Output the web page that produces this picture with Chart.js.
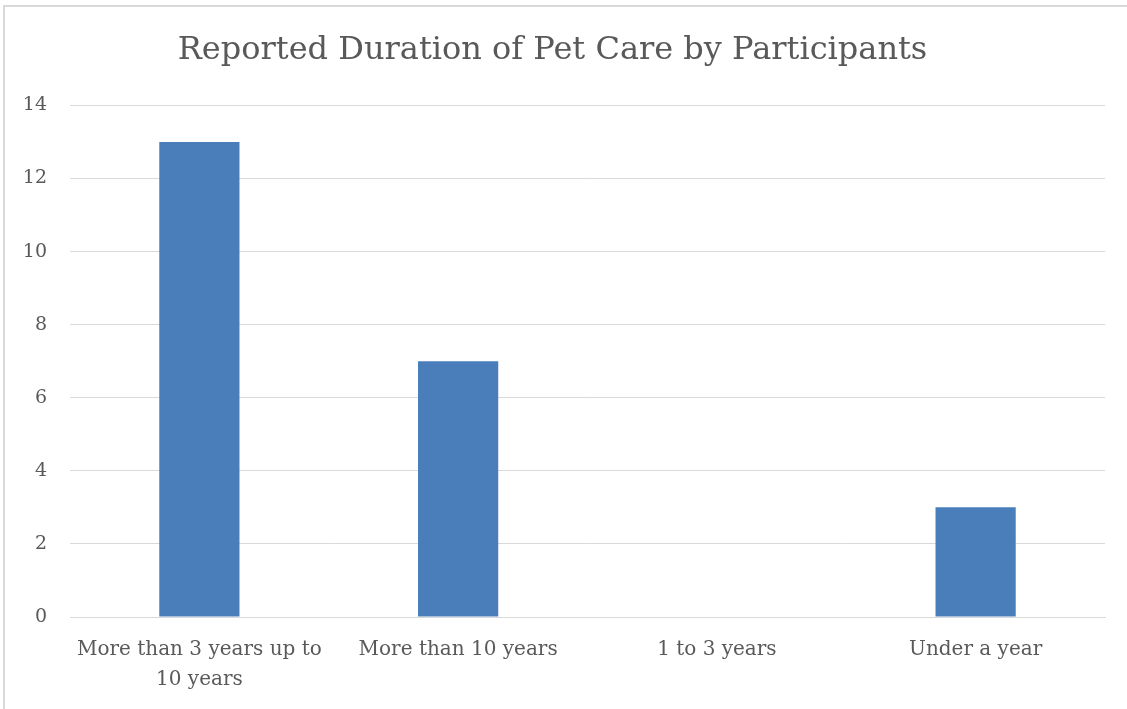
<!DOCTYPE html>
<html>
<head>
<meta charset="utf-8">
<script src="https://cdn.jsdelivr.net/npm/chart.js@4"></script>
<style>
  html, body { margin: 0; padding: 0; background: #ffffff; }
  #wrap { width: 1127px; height: 709px; position: relative; }
</style>
</head>
<body>
<div id="wrap"><canvas id="myChart"></canvas></div>
<script>
var categories = [
    ["More than 3 years up to", "10 years"],
    "More than 10 years",
    "1 to 3 years",
    "Under a year"
];
var participants = [13, 7, 0, 3];
var yTicks = [0, 2, 4, 6, 8, 10, 12, 14];

var textColor = "#595959";
var gridColor = "#d9d9d9";
var fontFamily = "'DejaVu Serif', 'Liberation Serif', serif";

// light frame around the whole chart
var framePlugin = {
    id: "frame",
    beforeDraw: function (chart) {
        var ctx = chart.ctx;
        ctx.save();
        ctx.strokeStyle = "#d9d9d9";
        ctx.lineWidth = 2;
        ctx.beginPath();
        ctx.moveTo(4, chart.height + 2);
        ctx.lineTo(4, 6);
        ctx.lineTo(chart.width + 2, 6);
        ctx.stroke();
        ctx.restore();
    }
};

function createChart() {
    new Chart("myChart", {
        type: "bar",
        data: {
            labels: categories,
            datasets: [{
                data: participants,
                backgroundColor: "#4a7ebb",
                borderWidth: 0,
                barPercentage: 1,
                categoryPercentage: 0.31
            }]
        },
        options: {
            responsive: true,
            maintainAspectRatio: false,
            animation: false,
            layout: { padding: { top: 0, right: 22, bottom: 0, left: 0 } },
            plugins: {
                legend: { display: false },
                tooltip: { enabled: false },
                title: {
                    display: true,
                    text: "Reported Duration of Pet Care by Participants",
                    color: textColor,
                    font: { family: fontFamily, size: 32, weight: "normal" },
                    padding: { top: 31, bottom: 36 }
                }
            },
            scales: {
                x: {
                    grid: { display: false, drawTicks: false },
                    border: { display: true, color: gridColor, width: 1 },
                    ticks: {
                        color: textColor,
                        font: { family: fontFamily, size: 20, lineHeight: 1.5 },
                        padding: 18,
                        maxRotation: 0,
                        autoSkip: false
                    },
                    afterFit: function (scale) { scale.height = 92; }
                },
                y: {
                    min: 0,
                    max: 14,
                    afterBuildTicks: function (scale) {
                        scale.ticks = yTicks.map(function (v) { return { value: v }; });
                    },
                    grid: { color: gridColor, lineWidth: 1, drawTicks: false },
                    border: { display: false },
                    ticks: {
                        color: textColor,
                        font: { family: fontFamily, size: 19 },
                        padding: 23
                    },
                    afterFit: function (scale) { scale.width = 70; }
                }
            }
        },
        plugins: [framePlugin]
    });
}

createChart();
</script>
</body>
</html>
